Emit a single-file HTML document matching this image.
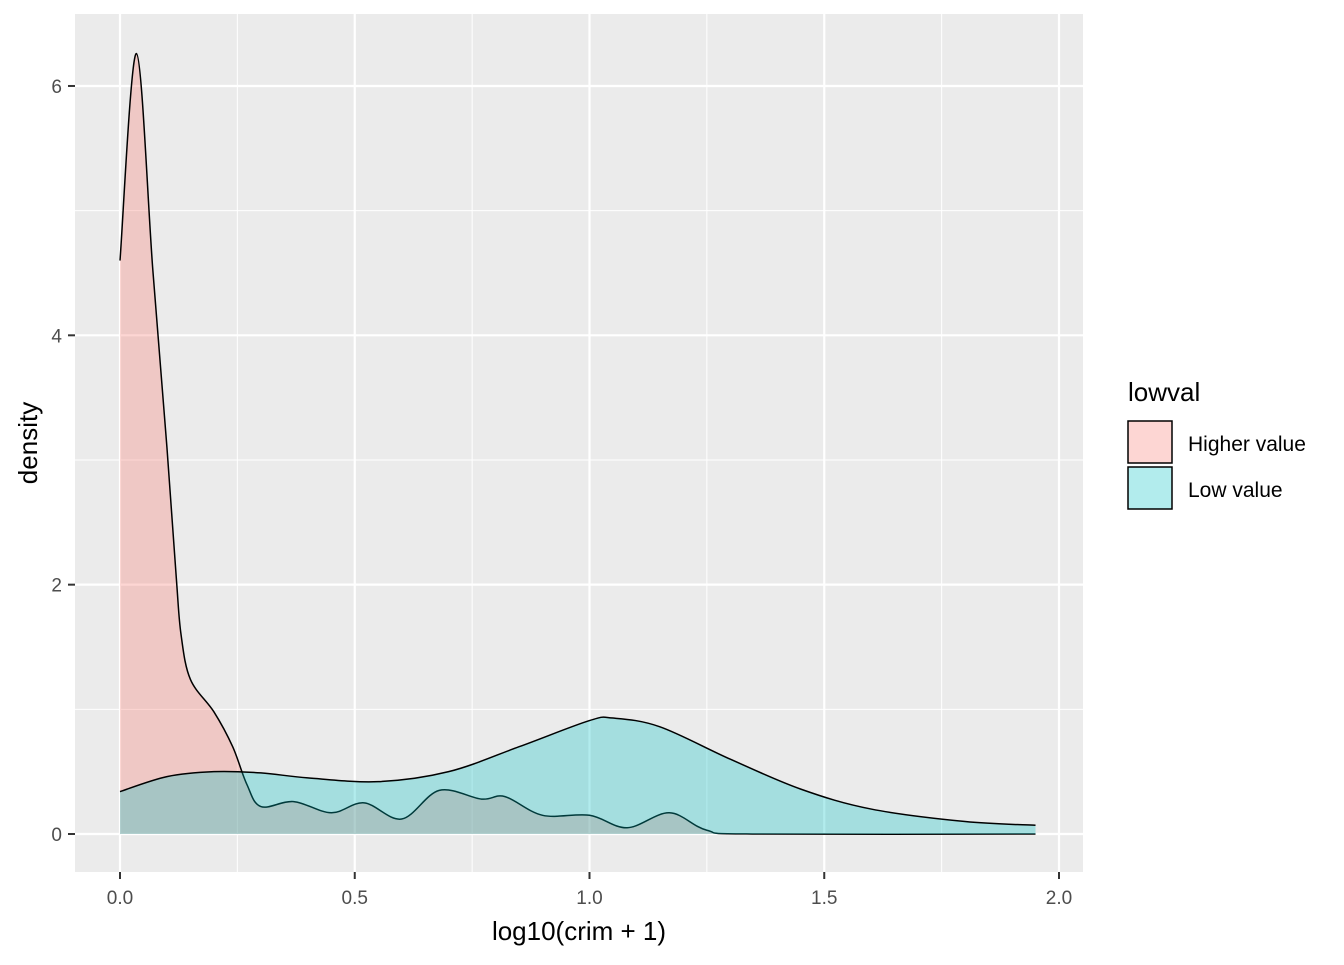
<!DOCTYPE html>
<html><head><meta charset="utf-8"><style>
body{margin:0;background:#fff;font-family:"Liberation Sans",Arial,sans-serif}
</style></head><body>
<svg id="chart" width="1344" height="960" xmlns="http://www.w3.org/2000/svg" font-family="Liberation Sans, Arial, sans-serif">
<rect x="75" y="14" width="1008" height="858" fill="#EBEBEB"/>
<g id="grid"></g>
<g id="series"></g>
<g id="axes"></g>
<text x="579" y="940" font-size="26" text-anchor="middle" fill="#000">log10(crim + 1)</text>
<text transform="translate(37,443) rotate(-90)" font-size="26" text-anchor="middle" fill="#000">density</text>
<g>
<text x="1128" y="401" font-size="26" fill="#000">lowval</text>
<rect x="1128" y="421" width="44" height="42" fill="#F8766D" fill-opacity="0.3" stroke="#000" stroke-width="1.5"/>
<rect x="1128" y="467" width="44" height="42" fill="#00BFC4" fill-opacity="0.3" stroke="#000" stroke-width="1.5"/>
<text x="1188" y="451" font-size="21" fill="#000">Higher value</text>
<text x="1188" y="497" font-size="21" fill="#000">Low value</text>
</g>
</svg>
<script>
const xTicks=[0,0.5,1,1.5,2];
const xTickLabels=["0.0","0.5","1.0","1.5","2.0"];
const yTicks=[0,2,4,6];
const yTickLabels=["0","2","4","6"];
const higherX=[0,0.035,0.07,0.1,0.12,0.13,0.15,0.2,0.24,0.27,0.3,0.37,0.45,0.52,0.6,0.68,0.77,0.82,0.9,1.0,1.08,1.17,1.25,1.35,1.95];
const higherY=[4.6,6.26,4.52,3.1,2.05,1.6,1.24,0.98,0.7,0.4,0.22,0.26,0.17,0.25,0.12,0.35,0.28,0.3,0.15,0.15,0.05,0.17,0.03,0.0,0.0];
const lowX=[0,0.1,0.2,0.3,0.4,0.55,0.7,0.85,1.0,1.05,1.15,1.3,1.45,1.6,1.8,1.95];
const lowY=[0.34,0.46,0.5,0.49,0.45,0.42,0.5,0.7,0.91,0.93,0.86,0.6,0.36,0.2,0.1,0.07];
const sx=v=>120+v*469.5, sy=v=>834-v*124.67;
const NS="http://www.w3.org/2000/svg";
function mk(t,a,p){const e=document.createElementNS(NS,t);for(const k in a)e.setAttribute(k,a[k]);p.appendChild(e);return e;}
const grid=document.getElementById('grid'),axes=document.getElementById('axes'),series=document.getElementById('series');
[0.25,0.75,1.25,1.75].forEach(v=>{const l=mk('line',{x1:sx(v),x2:sx(v),y1:14,y2:872,stroke:'#fff','stroke-width':1},grid);
});
[1,3,5].forEach(v=>{const l=mk('line',{x1:75,x2:1083,y1:sy(v),y2:sy(v),stroke:'#fff','stroke-width':1},grid);
});
xTicks.forEach((v,i)=>{const l=mk('line',{x1:sx(v),x2:sx(v),y1:14,y2:872,stroke:'#fff','stroke-width':2.2},grid);

const t=mk('line',{x1:sx(v),x2:sx(v),y1:872,y2:879,stroke:'#333','stroke-width':2},axes);

const tx=mk('text',{x:sx(v),y:904,'font-size':19,'text-anchor':'middle',fill:'#4D4D4D'},axes);tx.textContent=xTickLabels[i];
});
yTicks.forEach((v,i)=>{const l=mk('line',{x1:75,x2:1083,y1:sy(v),y2:sy(v),stroke:'#fff','stroke-width':2.2},grid);

const t=mk('line',{x1:68,x2:75,y1:sy(v),y2:sy(v),stroke:'#333','stroke-width':2},axes);

const tx=mk('text',{x:62,y:sy(v)+7,'font-size':19,'text-anchor':'end',fill:'#4D4D4D'},axes);tx.textContent=yTickLabels[i];
});
function curve(xs,ys){const p=xs.map((x,i)=>[sx(x),sy(ys[i])]);let d='M'+p[0][0]+','+p[0][1];
for(let i=0;i<p.length-1;i++){const p0=p[i-1]||p[i],p1=p[i],p2=p[i+1],p3=p[i+2]||p2;
const c1=[p1[0]+(p2[0]-p0[0])/6,p1[1]+(p2[1]-p0[1])/6],c2=[p2[0]-(p3[0]-p1[0])/6,p2[1]-(p3[1]-p1[1])/6];
d+=` C${c1[0]},${c1[1]} ${c2[0]},${c2[1]} ${p2[0]},${p2[1]}`;}return d;}
function area(xs,ys,col,name){const c=curve(xs,ys);
const a=mk('path',{d:c+` L${sx(xs[xs.length-1])},${sy(0)} L${sx(xs[0])},${sy(0)} Z`,fill:col,'fill-opacity':0.3,stroke:'none'},series);

const l=mk('path',{d:c,fill:'none',stroke:'#000','stroke-width':1.5},series);
}
area(higherX,higherY,'#F8766D','higher-value-density');
area(lowX,lowY,'#00BFC4','low-value-density');
</script>
</body></html>
